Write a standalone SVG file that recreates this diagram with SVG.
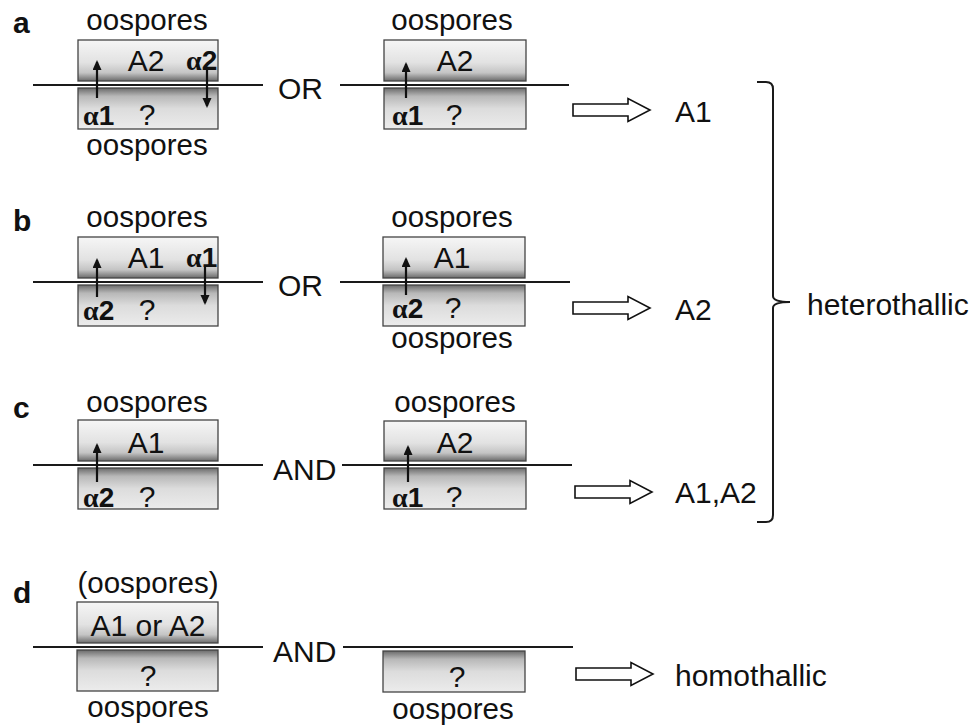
<svg xmlns="http://www.w3.org/2000/svg" width="977" height="725" viewBox="0 0 977 725">
<defs>
<linearGradient id="gUp" x1="0" y1="0" x2="0" y2="1">
<stop offset="0" stop-color="#f6f6f6"/>
<stop offset="0.55" stop-color="#e2e2e2"/>
<stop offset="0.8" stop-color="#c4c4c4"/>
<stop offset="1" stop-color="#6a6a6a"/>
</linearGradient>
<linearGradient id="gDn" x1="0" y1="0" x2="0" y2="1">
<stop offset="0" stop-color="#6a6a6a"/>
<stop offset="0.2" stop-color="#b8b8b8"/>
<stop offset="0.5" stop-color="#dcdcdc"/>
<stop offset="1" stop-color="#ececec"/>
</linearGradient>
<marker id="ah" markerUnits="userSpaceOnUse" markerWidth="12" markerHeight="12" refX="8" refY="4.5" orient="auto">
<path d="M0,0 L10,4.5 L0,9 z" fill="#111"/>
</marker>
<polygon id="oa" points="0,-6 55,-6 55,-11.5 77,0 55,11.5 55,6 0,6" fill="#fff" stroke="#111" stroke-width="1.6"/>
</defs>
<style>
text{font-family:"Liberation Sans",Arial,sans-serif;fill:#111;font-size:30px}
.os{font-size:29.5px}
.lbl{font-weight:bold}
.c{text-anchor:middle}
.sm{font-size:28px}
.al{font-family:"Liberation Serif","Times New Roman",serif;font-weight:bold}
.num{font-family:"Liberation Sans",Arial,sans-serif;font-weight:bold}
.bu{fill:url(#gUp);stroke:#444;stroke-width:1.3}
.bd{fill:url(#gDn);stroke:#444;stroke-width:1.3}
.ln{stroke:#1a1a1a;stroke-width:2;fill:none}
.ar{stroke:#111;stroke-width:2.2;marker-end:url(#ah)}
</style>

<!-- Panel a -->
<g id="panel-a">
<text class="lbl" x="13" y="33">a</text>
<g id="a-left">
<text class="os c" x="147" y="30">oospores</text>
<rect class="bu" x="78" y="40" width="140" height="41"/>
<rect class="bd" x="78" y="88" width="140" height="41"/>
<text class="c" x="146" y="71">A2</text>
<text class="sm" x="186" y="70"><tspan class="al">α</tspan><tspan class="num">2</tspan></text>
<text class="sm" x="83" y="125"><tspan class="al">α</tspan><tspan class="num">1</tspan></text>
<text class="c" x="147" y="125">?</text>
<text class="os c" x="147" y="155">oospores</text>
</g>
<text x="278" y="99">OR</text>
<g id="a-right">
<text class="os c" x="452" y="30">oospores</text>
<rect class="bu" x="384" y="40" width="142" height="41"/>
<rect class="bd" x="384" y="88" width="142" height="41"/>
<text class="c" x="455" y="71">A2</text>
<text class="sm" x="392" y="125"><tspan class="al">α</tspan><tspan class="num">1</tspan></text>
<text class="c" x="454" y="125">?</text>
</g>
<g id="a-result">
<use href="#oa" x="573" y="110"/>
<text x="675" y="122">A1</text>
</g>
</g>

<!-- Panel b -->
<g id="panel-b">
<text class="lbl" x="13" y="231">b</text>
<g id="b-left">
<text class="os c" x="147" y="227">oospores</text>
<rect class="bu" x="78" y="237" width="140" height="41"/>
<rect class="bd" x="78" y="285" width="140" height="41"/>
<text class="c" x="146" y="268">A1</text>
<text class="sm" x="186" y="267"><tspan class="al">α</tspan><tspan class="num">1</tspan></text>
<text class="sm" x="83" y="320"><tspan class="al">α</tspan><tspan class="num">2</tspan></text>
<text class="c" x="147" y="320">?</text>
</g>
<text x="278" y="296">OR</text>
<g id="b-right">
<text class="os c" x="452" y="227">oospores</text>
<rect class="bu" x="383" y="237" width="142" height="41"/>
<rect class="bd" x="383" y="285" width="142" height="41"/>
<text class="c" x="452" y="268">A1</text>
<text class="sm" x="392" y="318"><tspan class="al">α</tspan><tspan class="num">2</tspan></text>
<text class="c" x="453" y="318">?</text>
<text class="os c" x="452" y="348">oospores</text>
</g>
<g id="b-result">
<use href="#oa" x="573" y="308"/>
<text x="675" y="320">A2</text>
</g>
</g>

<!-- Panel c -->
<g id="panel-c">
<text class="lbl" x="13" y="418">c</text>
<g id="c-left">
<text class="os c" x="147" y="412">oospores</text>
<rect class="bu" x="78" y="420" width="140" height="41"/>
<rect class="bd" x="78" y="468" width="140" height="41"/>
<text class="c" x="146" y="453">A1</text>
<text class="sm" x="83" y="507"><tspan class="al">α</tspan><tspan class="num">2</tspan></text>
<text class="c" x="147" y="507">?</text>
</g>
<text x="273" y="480">AND</text>
<g id="c-right">
<text class="os c" x="455" y="412">oospores</text>
<rect class="bu" x="384" y="421" width="142" height="40"/>
<rect class="bd" x="384" y="468" width="142" height="41"/>
<text class="c" x="455" y="453">A2</text>
<text class="sm" x="392" y="507"><tspan class="al">α</tspan><tspan class="num">1</tspan></text>
<text class="c" x="454" y="507">?</text>
</g>
<g id="c-result">
<use href="#oa" x="575" y="492"/>
<text x="675" y="503">A1,A2</text>
</g>
</g>

<!-- Panel d -->
<g id="panel-d">
<text class="lbl" x="13" y="603">d</text>
<g id="d-left">
<text class="os c" x="148" y="593">(oospores)</text>
<rect class="bu" x="77" y="602" width="141" height="41"/>
<rect class="bd" x="77" y="650" width="141" height="41"/>
<text class="c" x="148" y="636">A1 or A2</text>
<text class="c" x="148" y="686">?</text>
<text class="os c" x="148" y="717">oospores</text>
</g>
<text x="273" y="662">AND</text>
<g id="d-right">
<rect class="bd" x="383" y="651" width="142" height="41"/>
<text class="c" x="457" y="687">?</text>
<text class="os c" x="453" y="719">oospores</text>
</g>
<g id="d-result">
<use href="#oa" x="576" y="674"/>
<text x="675" y="686">homothallic</text>
</g>
</g>

<!-- bracket -->
<g id="heterothallic">
<path class="ln" d="M757,82 L766,82 Q773,82 773,89 L773,296 Q773,302 790,302 Q773,302 773,308 L773,515 Q773,522 766,522 L757,522" stroke-width="1.8"/>
<text x="807" y="315">heterothallic</text>
</g>

<!-- connectors -->
<g id="connectors">
<line class="ln" x1="33" y1="85" x2="263" y2="85"/>
<line class="ln" x1="340" y1="85" x2="569" y2="85"/>
<line class="ln" x1="33" y1="282" x2="263" y2="282"/>
<line class="ln" x1="340" y1="282" x2="570" y2="282"/>
<line class="ln" x1="33" y1="465" x2="263" y2="465"/>
<line class="ln" x1="342" y1="465" x2="572" y2="465"/>
<line class="ln" x1="33" y1="647" x2="263" y2="647"/>
<line class="ln" x1="343" y1="647" x2="573" y2="647"/>
<line class="ar" x1="97" y1="98" x2="97" y2="62"/>
<line class="ar" x1="207" y1="70" x2="207" y2="106"/>
<line class="ar" x1="406" y1="98" x2="406" y2="64"/>
<line class="ar" x1="97" y1="297" x2="97" y2="260"/>
<line class="ar" x1="205" y1="267" x2="205" y2="303"/>
<line class="ar" x1="406" y1="295" x2="406" y2="259"/>
<line class="ar" x1="97" y1="482" x2="97" y2="445"/>
<line class="ar" x1="408" y1="482" x2="408" y2="447"/>
</g>
</svg>
